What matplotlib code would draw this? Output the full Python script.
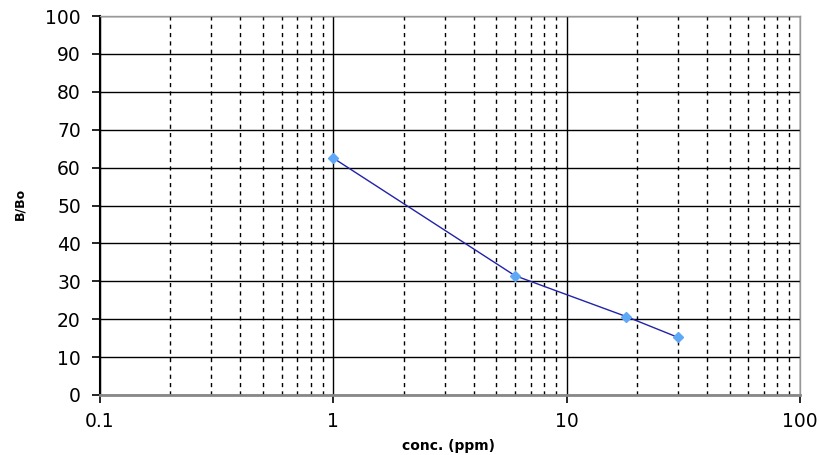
import matplotlib
matplotlib.use("Agg")
import matplotlib.pyplot as plt
from matplotlib.ticker import FixedLocator, LogLocator, NullFormatter

conc = [1, 6, 18, 30]
b_b0 = [62.5, 31.5, 20.7, 15.2]
x_ticks = [0.1, 1, 10, 100]
x_tick_labels = ["0.1", "1", "10", "100"]
y_ticks = list(range(0, 101, 10))

plt.rcParams['font.family'] = ['DejaVu Sans']

W, H = 819, 455
fig = plt.figure(figsize=(W/100, H/100), dpi=100)
ax = fig.add_axes([100/W, (H-395)/H, 700/W, 379/H])

ax.set_xscale('log')
ax.set_xlim(0.1, 100)
ax.set_ylim(0, 100)

ax.xaxis.set_major_locator(FixedLocator(x_ticks))
ax.set_xticklabels(x_tick_labels)
ax.xaxis.set_minor_locator(LogLocator(base=10, subs=range(2, 10)))
ax.xaxis.set_minor_formatter(NullFormatter())
ax.set_yticks(y_ticks)

ax.grid(True, which='major', axis='both', color='black', linewidth=1.0, linestyle='-')
ax.grid(True, which='minor', axis='x', color='black', linewidth=1.0, linestyle=(0, (3, 3)))
ax.set_axisbelow(True)

ax.plot(conc, b_b0, color='#2222AA', linewidth=1.0, zorder=3)
ax.plot(conc, b_b0, linestyle='none', marker='D', markersize=5, color='#5EA8F5',
        markeredgecolor='#5EA8F5', zorder=4)

for side in ['top', 'right']:
    ax.spines[side].set_color('#999999')
    ax.spines[side].set_linewidth(1.0)
ax.spines['bottom'].set_color('#888888')
ax.spines['bottom'].set_linewidth(2.0)
ax.spines['left'].set_color('black')
ax.spines['left'].set_linewidth(1.5)

ax.tick_params(axis='both', which='major', direction='out', length=5.8, width=1.2,
               labelsize=13.5, colors='black')
ax.tick_params(axis='y', which='major', pad=8)
ax.tick_params(axis='x', which='minor', length=0)
ax.tick_params(axis='x', which='major', pad=6.5)

fig.text(448/W, 1 - 446/H, 'conc. (ppm)', fontsize=10, fontweight='bold',
         ha='center', va='center')
fig.text(20/W, 1 - 204/H, 'B/Bo', fontsize=9, fontweight='bold',
         ha='center', va='center', rotation=90)

fig.savefig('out.png', dpi=100)
